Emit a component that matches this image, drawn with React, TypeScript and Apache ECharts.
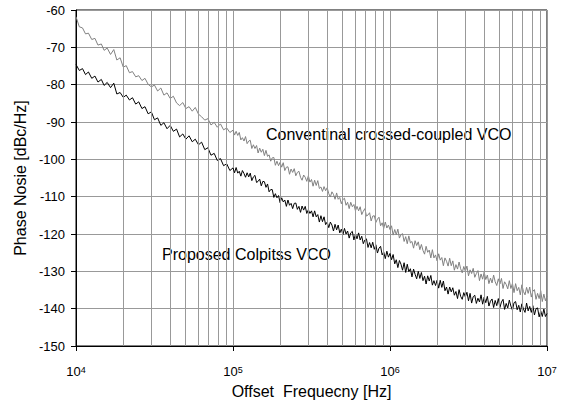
import React, { useEffect, useRef } from "react";
import * as echarts from "echarts";

// Offset frequency in kHz
const freqKHz: number[] = [
  10, 10.5, 11, 11.5, 12, 12.6, 13.2, 13.8, 14.5, 15.1, 15.8, 16.6, 17.4, 18.2, 19.1, 20, 20.9, 21.9, 22.9, 24,
  25.1, 26.3, 27.5, 28.8, 30.2, 31.6, 33.1, 34.7, 36.3, 38, 39.8, 41.7, 43.7, 45.7, 47.9, 50.1, 52.5, 55, 57.5, 60.3,
  63.1, 66.1, 69.2, 72.4, 75.9, 79.4, 83.2, 87.1, 91.2, 95.5,
  100, 102.3, 104.7, 107.2, 109.6, 112.2, 114.8, 117.5, 120.2, 123.0, 125.9, 128.8, 131.8, 134.9, 138.0, 141.3, 144.5, 147.9, 151.4, 154.9,
  158.5, 162.2, 166.0, 169.8, 173.8, 177.8, 182.0, 186.2, 190.5, 195.0, 199.5, 204.2, 208.9, 213.8, 218.8, 223.9, 229.1, 234.4, 239.9, 245.5,
  251.2, 257.0, 263.0, 269.2, 275.4, 281.8, 288.4, 295.1, 302.0, 309.0, 316.2, 323.6, 331.1, 338.8, 346.7, 354.8, 363.1, 371.5, 380.2, 389.0,
  398.1, 407.4, 416.9, 426.6, 436.5, 446.7, 457.1, 467.7, 478.6, 489.8, 501.2, 512.9, 524.8, 537.0, 549.5, 562.3, 575.4, 588.8, 602.6, 616.6,
  631.0, 645.7, 660.7, 676.1, 691.8, 707.9, 724.4, 741.3, 758.6, 776.2, 794.3, 812.8, 831.8, 851.1, 871.0, 891.3, 912.0, 933.3, 955.0, 977.2,
  1000, 1023, 1047, 1072, 1096, 1122, 1148, 1175, 1202, 1230, 1259, 1288, 1318, 1349, 1380, 1413, 1445, 1479, 1514, 1549,
  1585, 1622, 1660, 1698, 1738, 1778, 1820, 1862, 1905, 1950, 1995, 2042, 2089, 2138, 2188, 2239, 2291, 2344, 2399, 2455,
  2512, 2570, 2630, 2692, 2754, 2818, 2884, 2951, 3020, 3090, 3162, 3236, 3311, 3388, 3467, 3548, 3631, 3715, 3802, 3890,
  3981, 4074, 4169, 4266, 4365, 4467, 4571, 4677, 4786, 4898, 5012, 5129, 5248, 5370, 5495, 5623, 5754, 5888, 6026, 6166,
  6310, 6457, 6607, 6761, 6918, 7079, 7244, 7413, 7586, 7762, 7943, 8128, 8318, 8511, 8710, 8913, 9120, 9333, 9550, 9772,
  10000,
];

// Conventional crossed-coupled VCO (dBc/Hz)
const conventionalVCO: number[] = [
  -61.8, -64.5, -64.8, -66.4, -66.2, -67.9, -67.6, -69.4, -69.1, -70.8, -70.2, -71.9, -70.6, -73.4, -72.8, -75.3, -74.9, -76.8, -76.5, -77.9,
  -77.6, -78.9, -78.3, -79.9, -80.6, -80.1, -81.7, -80.9, -82.8, -82.2, -83.7, -83.1, -84.9, -85.6, -84.8, -86.4, -85.9, -87.1, -86.1, -87.9,
  -88.6, -89.5, -89.1, -90.8, -90.1, -91.4, -90.5, -92.1, -91.6, -92.8,
  -92.2, -93.5, -92.5, -93.6, -92.8, -94.8, -94.2, -95.1, -93.9, -95.8,
  -95.1, -94.9, -97.1, -96.1, -97.1, -96.3, -98.3, -97.0, -98.1, -97.3,
  -99.0, -97.6, -99.2, -98.8, -100.5, -99.6, -99.5, -101.6, -100.5, -101.7,
  -100.8, -102.1, -100.9, -103.0, -102.1, -102.0, -104.0, -102.6, -103.5, -102.5,
  -104.4, -103.5, -103.2, -104.8, -105.6, -104.2, -104.8, -105.9, -104.4, -106.1,
  -105.4, -107.2, -105.6, -107.0, -105.7, -107.8, -107.4, -108.6, -107.3, -108.4,
  -107.6, -109.2, -110.1, -108.7, -109.4, -110.7, -109.0, -110.7, -110.2, -111.9,
  -110.8, -110.4, -112.3, -111.5, -113.2, -111.5, -112.7, -112.1, -113.8, -112.6,
  -113.8, -112.7, -114.8, -113.9, -113.2, -115.2, -114.9, -114.3, -116.5, -115.2,
  -115.1, -116.9, -116.0, -115.5, -117.8, -117.0, -118.5, -116.8, -118.4, -117.6,
  -118.8, -117.8, -120.3, -118.8, -120.2, -118.7, -121.1, -120.2, -119.9, -122.0,
  -120.7, -122.6, -120.5, -122.4, -122.0, -123.8, -121.8, -123.1, -122.1, -124.2,
  -122.8, -124.4, -125.4, -123.3, -124.9, -124.3, -126.4, -124.2, -126.4, -125.6,
  -127.2, -125.3, -127.0, -126.3, -128.5, -126.4, -127.3, -128.6, -126.5, -128.5,
  -127.2, -129.7, -128.2, -129.4, -127.5, -129.3, -130.4, -128.7, -130.0, -128.6,
  -131.2, -129.6, -130.6, -129.2, -131.6, -130.6, -129.8, -132.5, -130.7, -132.1,
  -130.2, -132.2, -131.0, -133.3, -131.8, -133.1, -131.0, -132.8, -133.8, -132.0,
  -133.4, -131.9, -134.6, -132.8, -133.5, -134.7, -132.5, -134.6, -133.2, -135.7,
  -133.3, -135.2, -134.3, -136.3, -133.6, -135.4, -136.3, -134.3, -135.9, -134.2,
  -136.9, -135.3, -134.9, -137.5, -135.9, -137.3, -135.2, -138.1, -136.1, -137.9,
  -136.6,
];

// Proposed Colpitts VCO (dBc/Hz)
const proposedVCO: number[] = [
  -74.6, -76.2, -75.7, -77.3, -76.6, -78.3, -77.7, -79.3, -78.6, -80.2, -79.4, -80.8, -79.6, -82.5, -82.1, -83.4, -82.8, -84.1, -83.5, -85.2,
  -84.6, -86.4, -85.9, -87.8, -87.3, -89.4, -88.9, -90.9, -90.2, -91.8, -90.9, -92.5, -91.9, -94.0, -93.2, -94.6, -93.7, -95.3, -94.6, -96.1,
  -95.4, -97.4, -96.9, -98.9, -98.4, -100.3, -99.8, -101.7, -101.2, -103.0,
  -102.3, -103.6, -102.2, -103.7, -103.2, -104.5, -103.0, -103.8, -104.8, -103.6,
  -104.7, -103.7, -105.7, -104.7, -104.3, -106.2, -105.9, -105.3, -107.1, -105.9,
  -106.0, -107.5, -106.6, -108.7, -108.1, -108.1, -110.2, -109.2, -110.3, -109.7,
  -111.6, -110.3, -111.4, -110.9, -112.6, -110.9, -112.3, -111.8, -113.2, -111.8,
  -111.7, -113.4, -112.6, -114.2, -112.5, -113.6, -112.6, -114.5, -113.5, -114.5,
  -113.8, -115.4, -113.8, -115.4, -114.8, -116.8, -115.1, -116.7, -115.4, -117.5,
  -116.8, -118.3, -116.8, -117.6, -119.2, -117.4, -118.9, -117.6, -119.7, -118.7,
  -120.2, -118.5, -120.0, -119.2, -121.1, -119.7, -119.3, -121.6, -120.0, -121.3,
  -119.7, -121.6, -120.6, -122.6, -121.6, -121.3, -123.6, -122.3, -123.7, -122.2,
  -124.1, -122.9, -125.1, -123.8, -123.3, -125.6, -124.8, -126.6, -124.6, -126.2,
  -125.2, -126.9, -125.5, -128.0, -126.9, -129.0, -127.1, -128.1, -129.7, -127.7,
  -130.3, -128.1, -130.1, -129.3, -131.5, -129.4, -130.8, -132.0, -130.0, -131.9,
  -130.3, -132.5, -131.3, -133.4, -131.2, -132.6, -131.1, -133.7, -132.5, -133.8,
  -132.4, -134.5, -132.4, -134.3, -132.6, -135.2, -134.2, -136.1, -134.2, -135.5,
  -134.4, -136.4, -135.4, -137.3, -134.9, -136.7, -137.5, -135.7, -136.9, -135.6,
  -137.9, -135.9, -138.5, -136.8, -136.4, -138.6, -137.2, -138.2, -136.3, -138.8,
  -136.9, -138.4, -136.7, -139.3, -138.0, -137.4, -139.7, -137.8, -139.2, -137.3,
  -139.7, -138.2, -137.5, -140.2, -138.6, -139.8, -137.7, -139.3, -140.4, -138.4,
  -138.1, -140.3, -139.1, -140.9, -138.7, -140.1, -141.0, -138.5, -140.6, -139.4,
  -141.0, -139.2, -141.7, -140.0, -139.8, -142.2, -140.6, -142.1, -140.1, -142.1,
  -141.3,
];

// Minor vertical grid lines (Hz)
const minorGridFreqs: number[] = [
  2e4, 3e4, 4e4, 5e4, 6e4, 7e4, 8e4, 9e4,
  2e5, 3e5, 4e5, 5e5, 6e5, 7e5, 8e5, 9e5,
  2e6, 3e6, 4e6, 5e6, 6e6, 7e6, 8e6, 9e6,
];

const seriesNames = ["Conventinal crossed-coupled VCO", "Proposed Colpitss VCO"];
const FONT = "'Liberation Sans', Arial, sans-serif";

export default function App() {
  const ref = useRef<HTMLDivElement>(null);
  useEffect(() => {
    if (!ref.current) return;
    const chart = echarts.init(ref.current, undefined, { renderer: "svg" });
    const toPairs = (vals: number[]) => freqKHz.map((f, i) => [f * 1000, vals[i]]);
    chart.setOption({
      animation: false,
      backgroundColor: "#fff",
      textStyle: { fontFamily: FONT },
      grid: {
        left: 76,
        right: 15,
        top: 10,
        bottom: 55,
        show: true,
        borderColor: "#000",
        borderWidth: 1,
        backgroundColor: "transparent",
      },
      xAxis: {
        type: "log",
        logBase: 10,
        min: 1e4,
        max: 1e7,
        name: "Offset  Frequecny [Hz]",
        nameLocation: "middle",
        nameGap: 37,
        nameTextStyle: { fontSize: 16, color: "#000", fontFamily: FONT },
        axisLine: { show: true, lineStyle: { color: "#000", width: 1 } },
        axisTick: { show: true, length: 5, lineStyle: { color: "#000" } },
        splitLine: { show: true, lineStyle: { color: "#999", width: 1 } },
        axisLabel: {
          color: "#000",
          fontSize: 13,
          margin: 19,
          fontFamily: FONT,
          formatter: (v: number) => "10{s|" + Math.round(Math.log10(v)) + "}",
          rich: {
            s: { fontSize: 9, verticalAlign: "top", lineHeight: 10, color: "#000", fontFamily: FONT },
          },
        },
      },
      yAxis: {
        type: "value",
        min: -150,
        max: -60,
        interval: 10,
        name: "Phase Nosie [dBc/Hz]",
        nameLocation: "middle",
        nameGap: 43,
        nameTextStyle: { fontSize: 16, color: "#000", fontFamily: FONT },
        axisLine: { show: true, lineStyle: { color: "#000", width: 1 } },
        axisTick: { show: true, length: 5, lineStyle: { color: "#000" } },
        splitLine: { show: true, lineStyle: { color: "#999", width: 1 } },
        axisLabel: { color: "#000", fontSize: 13, margin: 11, fontFamily: FONT },
      },
      graphic: [
        {
          type: "text",
          left: 266,
          top: 126,
          style: { text: seriesNames[0], fontSize: 16, fill: "#000", fontFamily: FONT },
          silent: true,
        },
        {
          type: "text",
          left: 162,
          top: 246,
          style: { text: seriesNames[1], fontSize: 16, fill: "#000", fontFamily: FONT },
          silent: true,
        },
      ],
      series: [
        {
          type: "line",
          name: "minor-grid",
          data: [],
          z: 1,
          silent: true,
          markLine: {
            silent: true,
            symbol: ["none", "none"],
            label: { show: false },
            lineStyle: { color: "#999", width: 1, type: "solid" },
            emphasis: { disabled: true },
            data: minorGridFreqs.map((f) => ({ xAxis: f })),
          },
        },
        {
          type: "line",
          name: seriesNames[0],
          data: toPairs(conventionalVCO),
          showSymbol: false,
          symbol: "none",
          z: 3,
          lineStyle: { color: "#808080", width: 1 },
          itemStyle: { color: "#808080" },
          emphasis: { disabled: true },
          silent: true,
        },
        {
          type: "line",
          name: seriesNames[1],
          data: toPairs(proposedVCO),
          showSymbol: false,
          symbol: "none",
          z: 4,
          lineStyle: { color: "#000", width: 1 },
          itemStyle: { color: "#000" },
          emphasis: { disabled: true },
          silent: true,
        },
      ],
    });
    return () => chart.dispose();
  }, []);
  return <div ref={ref} style={{ position: "fixed", left: 0, top: 0, width: 562, height: 404 }} />;
}
